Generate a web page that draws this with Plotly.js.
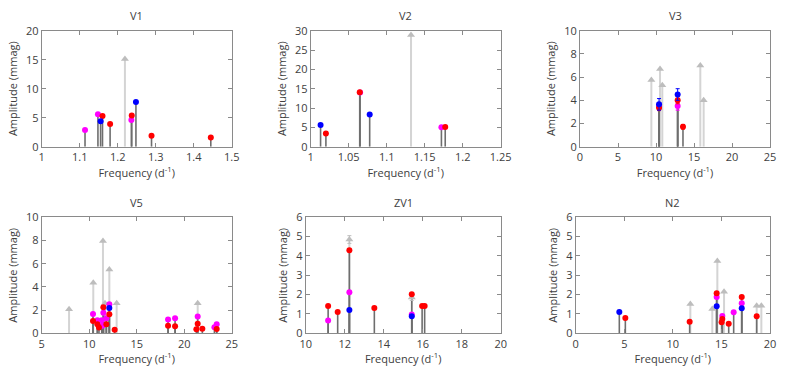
<!DOCTYPE html>
<html>
<head>
<meta charset="utf-8">
<script src="https://cdn.plot.ly/plotly-3.0.1.min.js"></script>
<style>
  body { margin: 0; background: #fff; }
  #chart { width: 789px; height: 370px; }
</style>
</head>
<body>
<div id="chart"></div>
<script>
// V1
const v1RedF = [1.160, 1.180, 1.237, 1.289, 1.445];
const v1RedA = [5.3, 3.9, 5.4, 1.9, 1.6];
const v1BlueF = [1.155, 1.248];
const v1BlueA = [4.4, 7.7];
const v1MagF = [1.114, 1.148, 1.236];
const v1MagA = [2.9, 5.6, 4.6];
const v1GreyF = [1.219];
const v1GreyA = [15.1];

// V2
const v2RedF = [1.020, 1.0645, 1.177];
const v2RedA = [3.4, 14.1, 5.1];
const v2BlueF = [1.013, 1.0776];
const v2BlueA = [5.6, 8.3];
const v2MagF = [1.065, 1.172];
const v2MagA = [14.0, 5.0];
const v2GreyF = [1.132];
const v2GreyA = [28.9];

// V3
const v3RedF = [10.4, 12.85, 13.55];
const v3RedA = [3.36, 4.0, 1.72];
const v3RedE = [0.25, 0.3, 0.2];
const v3BlueF = [10.4, 12.85];
const v3BlueA = [3.65, 4.5];
const v3BlueE = [0.5, 0.5];
const v3MagF = [10.4, 12.85];
const v3MagA = [3.5, 3.5];
const v3MagE = [0.3, 0.35];
const v3GreyF = [9.39, 10.53, 10.83, 15.83, 16.27];
const v3GreyA = [5.75, 6.7, 5.3, 7.0, 4.0];

// V5
const v5RedF = [10.40, 10.86, 11.03, 11.49, 11.81, 12.12, 12.68, 18.30, 19.04, 21.28, 21.42, 21.91, 23.42];
const v5RedA = [1.06, 0.77, 0.49, 2.24, 0.77, 1.64, 0.31, 0.66, 0.6, 0.34, 0.83, 0.4, 0.37];
const v5BlueF = [12.12];
const v5BlueA = [2.18];
const v5MagF = [10.40, 10.86, 11.32, 11.38, 11.49, 11.81, 12.12, 18.30, 19.04, 21.42, 23.18, 23.42];
const v5MagA = [1.66, 1.12, 1.12, 0.66, 1.78, 1.29, 2.5, 1.18, 1.29, 1.44, 0.52, 0.78];
const v5GreyF = [7.88, 10.43, 11.45, 11.66, 12.12, 12.89, 21.42];
const v5GreyA = [2.07, 4.36, 7.96, 2.59, 5.5, 2.59, 2.59];

// ZV1
const zv1RedF = [11.15, 11.64, 12.24, 13.52, 15.44, 15.97, 16.10];
const zv1RedA = [1.41, 1.10, 4.29, 1.31, 2.02, 1.41, 1.41];
const zv1BlueF = [12.24, 15.44];
const zv1BlueA = [1.21, 0.88];
const zv1MagF = [11.15, 12.24, 15.44];
const zv1MagA = [0.66, 2.12, 0.97];
const zv1GreyF = [12.24, 15.44];
const zv1GreyA = [4.85, 1.85];
const zv1GreyE = [0.2, 0.15];

// N2
const n2RedF = [5.11, 11.73, 14.51, 15.02, 15.09, 15.75, 17.09, 18.63];
const n2RedA = [0.79, 0.6, 2.07, 0.57, 0.74, 0.5, 1.88, 0.88];
const n2BlueF = [4.49, 14.51, 17.09];
const n2BlueA = [1.10, 1.40, 1.29];
const n2MagF = [14.51, 15.09, 16.26, 17.09];
const n2MagA = [1.88, 0.9, 1.09, 1.55];
const n2GreyF = [11.80, 14.06, 14.58, 15.27, 18.63, 19.11];
const n2GreyA = [1.52, 1.26, 3.74, 2.15, 1.43, 1.43];

const panels = [
  { name: "V1", xr: [1, 1.5], dx: 0.1, yr: [0, 20], dy: 5, xd: [41.7, 231.7], row: 0,
    red: [v1RedF, v1RedA], blue: [v1BlueF, v1BlueA], mag: [v1MagF, v1MagA], grey: [v1GreyF, v1GreyA] },
  { name: "V2", xr: [1, 1.25], dx: 0.05, yr: [0, 30], dy: 5, xd: [310.7, 500.7], row: 0,
    red: [v2RedF, v2RedA], blue: [v2BlueF, v2BlueA], mag: [v2MagF, v2MagA], grey: [v2GreyF, v2GreyA] },
  { name: "V3", xr: [0, 25], dx: 5, yr: [0, 10], dy: 2, xd: [580, 770], row: 0,
    red: [v3RedF, v3RedA, v3RedE], blue: [v3BlueF, v3BlueA, v3BlueE], mag: [v3MagF, v3MagA, v3MagE], grey: [v3GreyF, v3GreyA] },
  { name: "V5", xr: [5, 25], dx: 5, yr: [0, 10], dy: 2, xd: [41.7, 231.7], row: 1,
    red: [v5RedF, v5RedA], blue: [v5BlueF, v5BlueA], mag: [v5MagF, v5MagA], grey: [v5GreyF, v5GreyA] },
  { name: "ZV1", xr: [10, 20], dx: 2, yr: [0, 6], dy: 1, xd: [305.7, 500.7], row: 1,
    red: [zv1RedF, zv1RedA], blue: [zv1BlueF, zv1BlueA], mag: [zv1MagF, zv1MagA], grey: [zv1GreyF, zv1GreyA, zv1GreyE] },
  { name: "N2", xr: [0, 20], dx: 5, yr: [0, 6], dy: 1, xd: [575.7, 770], row: 1,
    red: [n2RedF, n2RedA], blue: [n2BlueF, n2BlueA], mag: [n2MagF, n2MagA], grey: [n2GreyF, n2GreyA] },
];

const W = 789, H = 370;
const rowsPx = [[30.7, 146.7], [217.3, 333.3]];
const txt = "#404040";
const frame = "#8a8a8a";

function stems(f, a, xa, ya, color, w) {
  const x = [], y = [];
  f.forEach((v, i) => { x.push(v, v, null); y.push(0, a[i], null); });
  return { x, y, xaxis: xa, yaxis: ya, type: "scatter", mode: "lines",
    line: { color: color, width: w }, hoverinfo: "skip", showlegend: false };
}

function dots(s, xa, ya, color, symbol, size) {
  const t = { x: s[0], y: s[1], xaxis: xa, yaxis: ya, type: "scatter", mode: "markers",
    marker: { color: color, symbol: symbol, size: size }, showlegend: false };
  if (s[2]) t.error_y = { type: "data", array: s[2], color: color, thickness: 1, width: 2, opacity: 0.5 };
  return t;
}

const traces = [];
const layout = {
  width: W, height: H,
  margin: { l: 0, r: 0, t: 0, b: 0 },
  paper_bgcolor: "#fff", plot_bgcolor: "#fff",
  font: { family: "Open Sans, sans-serif", size: 11, color: txt },
  showlegend: false,
  annotations: [],
};

panels.forEach((p, i) => {
  const n = i + 1;
  const xa = n === 1 ? "x" : "x" + n;
  const ya = n === 1 ? "y" : "y" + n;
  const ry = rowsPx[p.row];

  traces.push(stems(p.grey[0], p.grey[1], xa, ya, "#d4d4d4", 2));
  const allF = [].concat(p.red[0], p.blue[0], p.mag[0]);
  const allA = [].concat(p.red[1], p.blue[1], p.mag[1]);
  traces.push(stems(allF, allA, xa, ya, "#6e6e6e", 1.6));
  traces.push(dots(p.grey, xa, ya, "#bdbdbd", "triangle-up", 7));
  traces.push(dots(p.mag, xa, ya, "#ff00ff", "circle", 6));
  traces.push(dots(p.red, xa, ya, "#ff0000", "circle", 6));
  traces.push(dots(p.blue, xa, ya, "#0000ff", "circle", 6));

  const axBase = {
    showline: true, mirror: "allticks", linecolor: frame, linewidth: 1,
    ticks: "inside", ticklen: 4, tickcolor: frame,
    showgrid: false, zeroline: false, fixedrange: true,
    tickfont: { size: 11, color: txt },
  };
  layout["xaxis" + (n === 1 ? "" : n)] = Object.assign({}, axBase, {
    domain: [p.xd[0] / W, p.xd[1] / W],
    range: p.xr, dtick: p.dx, tick0: p.xr[0],
    anchor: ya,
    title: { text: "Frequency (d<sup>-1</sup>)", font: { size: 11, color: txt }, standoff: 4 },
  });
  layout["yaxis" + (n === 1 ? "" : n)] = Object.assign({}, axBase, {
    domain: [1 - ry[1] / H, 1 - ry[0] / H],
    range: p.yr, dtick: p.dy, tick0: 0,
    anchor: xa,
    title: { text: "Amplitude (mmag)", font: { size: 11, color: txt }, standoff: 6 },
  });
  layout.annotations.push({
    text: p.name, xref: "paper", yref: "paper",
    x: (p.xd[0] + p.xd[1]) / 2 / W, y: 1 - (ry[0] - 15) / H,
    xanchor: "center", yanchor: "middle", showarrow: false,
    font: { size: 11, color: txt },
  });
});

Plotly.newPlot("chart", traces, layout, { staticPlot: true });
</script>
</body>
</html>
